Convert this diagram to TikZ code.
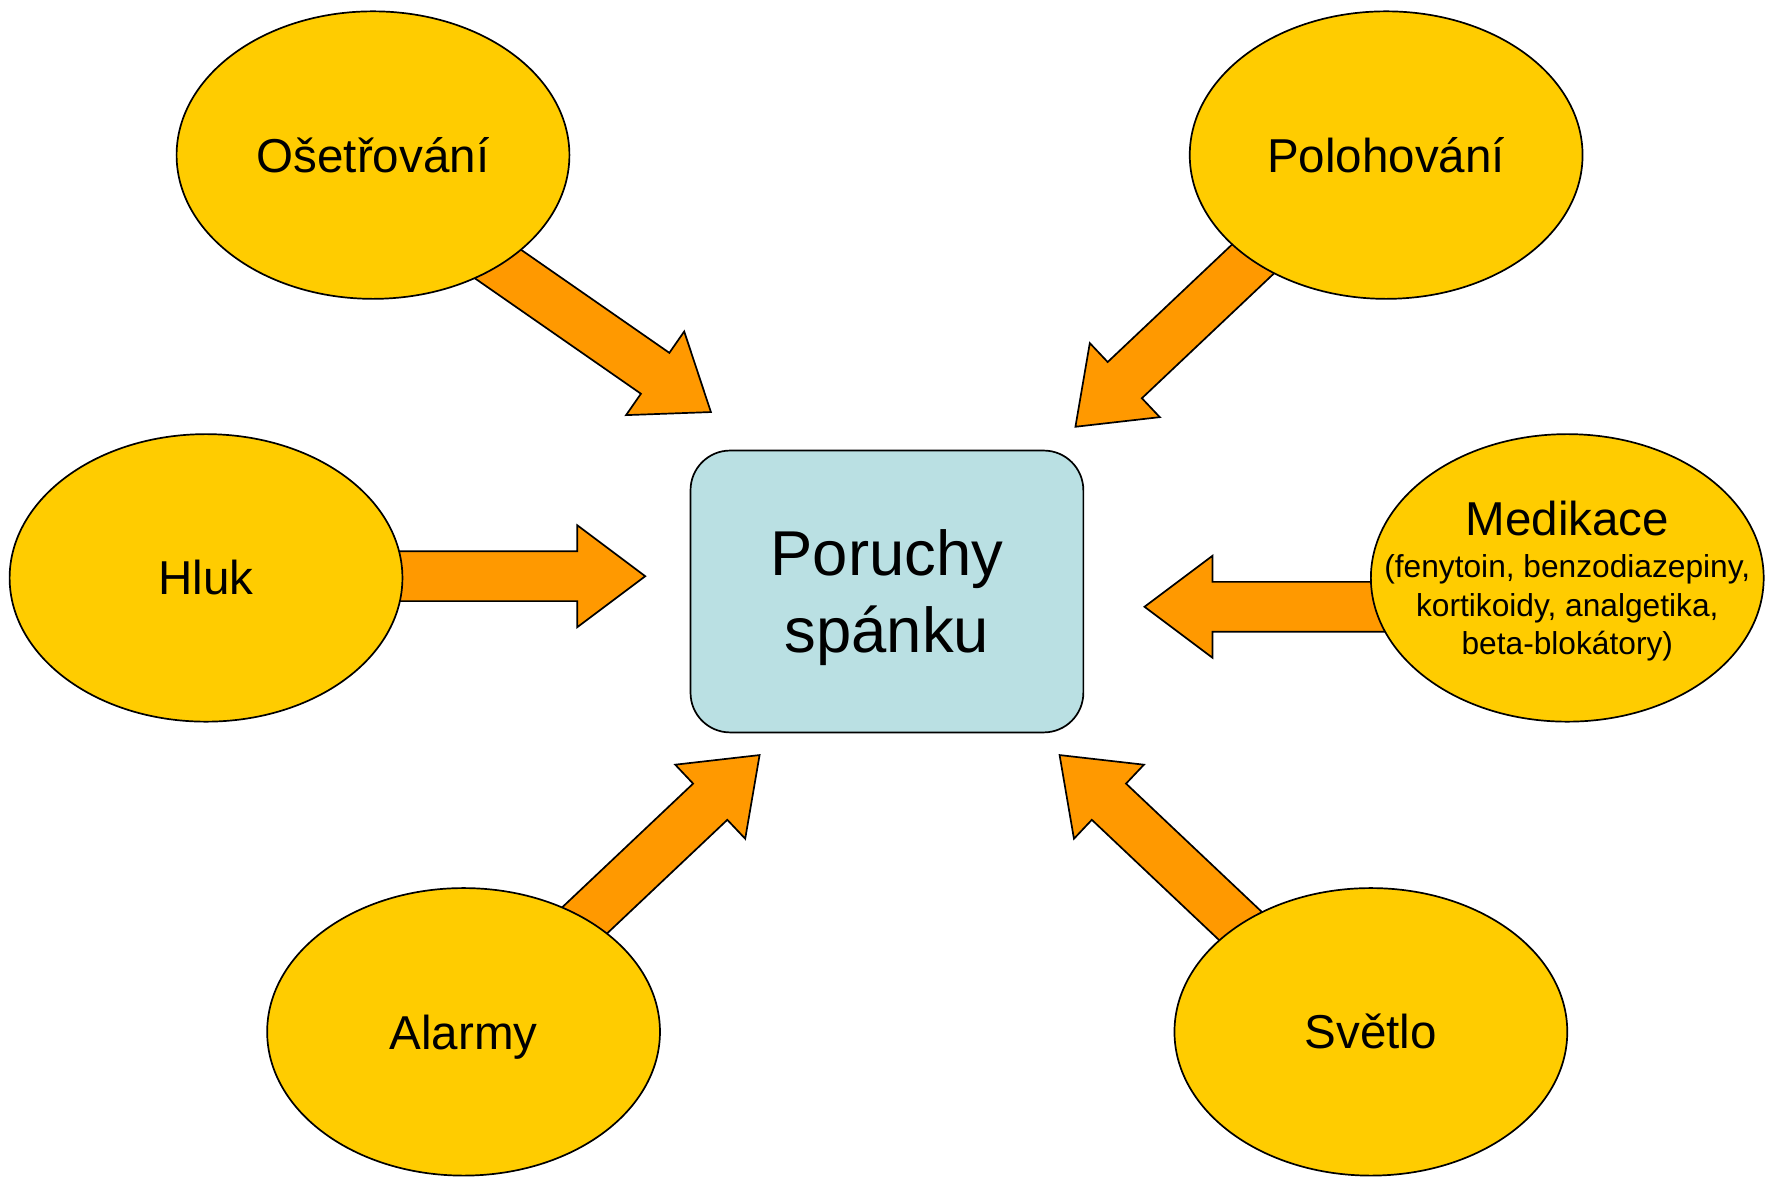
\documentclass[tikz,border=0pt]{standalone}
\usepackage{fontspec}
\setmainfont{Liberation Sans}
\usetikzlibrary{calc,shapes.geometric,backgrounds}
\definecolor{ellfill}{HTML}{FFCC00}
\definecolor{arrfill}{HTML}{FF9900}
\definecolor{boxfill}{HTML}{BAE0E3}
\tikzset{
  src/.style={ellipse, draw=black, line width=1.5pt, fill=ellfill,
    minimum width=347pt, minimum height=254pt, inner sep=0pt,
    font=\fontsize{42}{48}\selectfont, align=center},
  core/.style={rectangle, rounded corners=35pt, draw=black, line width=1.5pt,
    fill=boxfill, minimum width=347pt, minimum height=249pt, inner sep=0pt,
    font=\fontsize{56}{68}\selectfont, align=center, text depth=0pt},
  blockarrow/.style={draw=black, line width=1.5pt, fill=arrfill, line join=miter},
}
\newcommand\blockarr[2]{%
  \path ($(#2)!60pt!(#1)$) coordinate (hb);
  \draw[blockarrow] ($(#1)!22pt!90:(#2)$) -- ($(hb)!22pt!90:(#2)$)
    -- ($(hb)!45pt!90:(#2)$) -- (#2) -- ($(hb)!45pt!-90:(#2)$)
    -- ($(hb)!22pt!-90:(#2)$) -- ($(#1)!22pt!-90:(#2)$) -- cycle;
}
\begin{document}
\begin{tikzpicture}[x=1pt,y=-1pt]
\useasboundingbox (0,0) rectangle (1568,1039);
% nodes
\node[src] (osetr) at (329.5,137) {Ošetřování};
\node[src] (poloh) at (1224.5,137) {Polohování};
\node[src] (hluk) at (182,510.5) {Hluk};
\node[src, inner xsep=-50pt, font=\fontsize{28}{34}\selectfont, text depth=0pt] (medik) at (1384.5,510.5)
  {{\fontsize{42}{48}\selectfont Medikace}\\[3pt](fenytoin, benzodiazepiny,\\kortikoidy, analgetika,\\beta-blokátory)};
\node[src, text depth=0pt] (alarm) at (409.5,911.5) {Alarmy};
\node[src] (svetlo) at (1211,911.5) {Světlo};
\node[core] (poruchy) at (783.5,522.5) {Poruchy\\spánku};
% arrow ends
\coordinate (osetrT) at ($(osetr.center)+(52.5,56)$);
\coordinate (osetrP) at (628,364);
\coordinate (polohT) at ($(poloh.center)+(-56.5,34)$);
\coordinate (polohP) at (950,377);
\coordinate (hlukT) at ($(hluk.center)+(68,-1.5)$);
\coordinate (hlukP) at (570,509);
\coordinate (medikT) at ($(medik.center)+(-84.5,25.5)$);
\coordinate (medikP) at (1011,536);
\coordinate (alarmT) at ($(alarm.center)+(43.5,-38.5)$);
\coordinate (alarmP) at (671,667);
\coordinate (svetloT) at ($(svetlo.center)+(-57,-38.5)$);
\coordinate (svetloP) at (936,667);
\begin{pgfonlayer}{background}
  \fill[white] (0,0) rectangle (1568,1039);
  \blockarr{osetrT}{osetrP}
  \blockarr{polohT}{polohP}
  \blockarr{hlukT}{hlukP}
  \blockarr{medikT}{medikP}
  \blockarr{alarmT}{alarmP}
  \blockarr{svetloT}{svetloP}
\end{pgfonlayer}
\end{tikzpicture}
\end{document}
